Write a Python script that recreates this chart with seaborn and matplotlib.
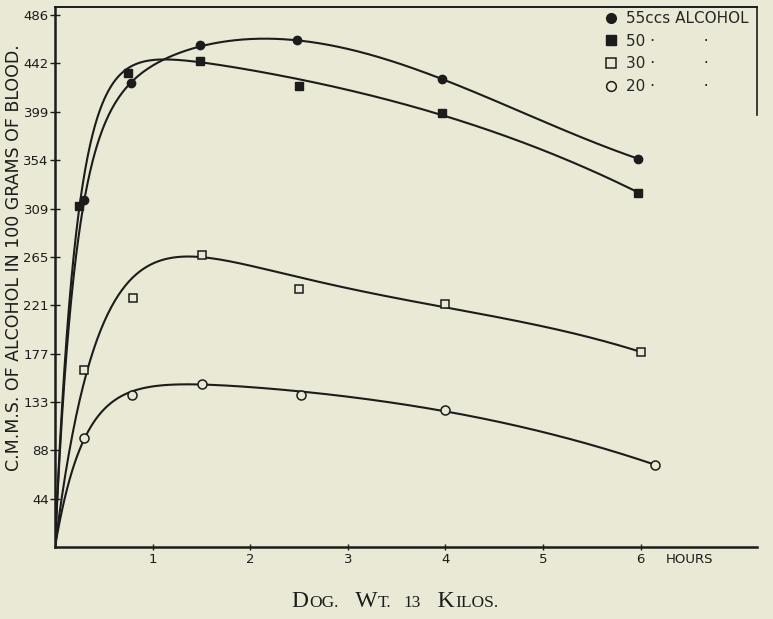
import numpy as np
import pandas as pd
import seaborn as sns
import matplotlib.pyplot as plt
from matplotlib.lines import Line2D

# hours after dose and C.M.M.S. of alcohol per 100 g of blood
hours_55 = [0.30, 0.78, 1.49, 2.48, 3.97, 5.97]
alcohol_55 = [317, 424, 459, 463, 428, 355]
hours_50 = [0.25, 0.75, 1.49, 2.50, 3.97, 5.97]
alcohol_50 = [312, 433, 444, 421, 397, 324]
hours_30 = [0.30, 0.80, 1.51, 2.50, 4.00, 6.00]
alcohol_30 = [162, 228, 267, 236, 222, 178]
hours_20 = [0.30, 0.79, 1.51, 2.52, 4.00, 6.15]
alcohol_20 = [100, 139, 149, 139, 125, 75]

doses = ['55', '50', '30', '20']
y_tick_labels = ['44', '88', '133', '177', '221', '265', '309', '354', '399', '442', '486']
x_tick_labels = ['1', '2', '3', '4', '5', '6']

BG = '#e9e9d5'
INK = '#1c1c1c'


def smooth_curve(t, v):
    # weighted least squares fit of a(1-exp(-bt)) + c t + d t^2 + e t^3 from the origin;
    # the highest reading counts a little more, as a drawn curve runs close to its peak
    t = np.asarray(t, float)
    v = np.asarray(v, float)
    w = np.ones_like(v)
    w[np.argmax(v)] = 3.0

    def design(x, b):
        return np.column_stack([1 - np.exp(-b * x), x, x ** 2, x ** 3])

    best = None
    for b in np.linspace(0.5, 12, 461):
        X = design(t, b)
        coef = np.linalg.lstsq(X * w[:, None], v * w, rcond=None)[0]
        err = np.sum((w * (X @ coef - v)) ** 2)
        if best is None or err < best[0]:
            best = (err, b, coef)
    _, b, coef = best
    tt = np.linspace(0, t.max(), 500)
    return tt, design(tt, b) @ coef


series = {
    '55': (hours_55, alcohol_55),
    '50': (hours_50, alcohol_50),
    '30': (hours_30, alcohol_30),
    '20': (hours_20, alcohol_20),
}

frames = []
for dose in doses:
    tt, vv = smooth_curve(*series[dose])
    frames.append(pd.DataFrame({'hours': tt, 'alcohol': vv, 'dose': dose}))
curves = pd.concat(frames, ignore_index=True)

sns.set_style('ticks')
plt.rcParams['font.family'] = ['DejaVu Sans']

fig = plt.figure(figsize=(7.73, 6.19), dpi=100, facecolor=BG)
ax = fig.add_axes([55 / 773, 72 / 619, 702 / 773, 540 / 619])
ax.set_facecolor(BG)

sns.lineplot(data=curves, x='hours', y='alcohol', hue='dose', palette={d: INK for d in doses},
             linewidth=1.5, legend=False, ax=ax, sort=False)

marker_style = {
    '55': dict(marker='o', markersize=6, markerfacecolor=INK, markeredgecolor=INK),
    '50': dict(marker='s', markersize=5.5, markerfacecolor=INK, markeredgecolor=INK),
    '30': dict(marker='s', markersize=6, markerfacecolor=BG, markeredgecolor=INK, markeredgewidth=1.1),
    '20': dict(marker='o', markersize=6.5, markerfacecolor=BG, markeredgecolor=INK, markeredgewidth=1.1),
}
for dose in doses:
    t, v = series[dose]
    ax.plot(t, v, linestyle='none', zorder=5, **marker_style[dose])

unit = 486.2 / 11
ax.set_xlim(0, 702 / 97.6)
ax.set_ylim(0, 540 / 1.094)
ax.set_yticks([unit * (i + 1) for i in range(len(y_tick_labels))])
ax.set_yticklabels(y_tick_labels, fontsize=9.5, color=INK)
ax.set_xticks(range(1, len(x_tick_labels) + 1))
ax.set_xticklabels(x_tick_labels, fontsize=9.5, color=INK)
ax.tick_params(axis='y', direction='inout', length=7, width=1, pad=1, colors=INK)
ax.tick_params(axis='x', direction='inout', length=5, width=1, pad=2, colors=INK)

for side in ['left', 'bottom']:
    ax.spines[side].set_linewidth(1.8)
    ax.spines[side].set_color(INK)
ax.spines['top'].set_linewidth(1.4)
ax.spines['top'].set_color(INK)
ax.spines['right'].set_linewidth(1.2)
ax.spines['right'].set_color(INK)
ax.spines['right'].set_bounds(395, 540 / 1.094)

ax.set_xlabel('')
ax.set_ylabel('C.M.M.S. OF ALCOHOL IN 100 GRAMS OF BLOOD.', fontsize=12.5, color=INK)
ax.yaxis.set_label_coords(-0.045, 0.535)
ax.text(6.26, -11, 'HOURS', fontsize=9.5, color=INK, va='center', ha='left')

handles = [Line2D([], [], linestyle='none', **{**marker_style[d], 'markersize': 7}) for d in doses]
labels = ['55ccs ALCOHOL', '50 ·          ·', '30 ·          ·', '20 ·          ·']
ax.legend(handles, labels, loc='upper right', bbox_to_anchor=(0.997, 1.004), frameon=False,
          fontsize=11, handletextpad=0.4, labelspacing=0.5, borderaxespad=0.0, handlelength=1.2)

# caption in small capitals
renderer = fig.canvas.get_renderer()
pieces = [('D', 17), ('OG.', 12.5), ('   W', 17), ('T.', 12.5), ('  ', 17), ('13', 12.5),
          ('   K', 17), ('ILOS.', 12.5)]
texts = []
for s, size in pieces:
    t = fig.text(0, 12 / 619, s, fontsize=size, family='Liberation Serif', color=INK,
                 ha='left', va='baseline')
    texts.append((t, t.get_window_extent(renderer).width / fig.bbox.width))
x = 395 / 773 - sum(w for _, w in texts) / 2
for t, w in texts:
    t.set_x(x)
    x += w

fig.savefig('out.png', dpi=100, facecolor=BG)
